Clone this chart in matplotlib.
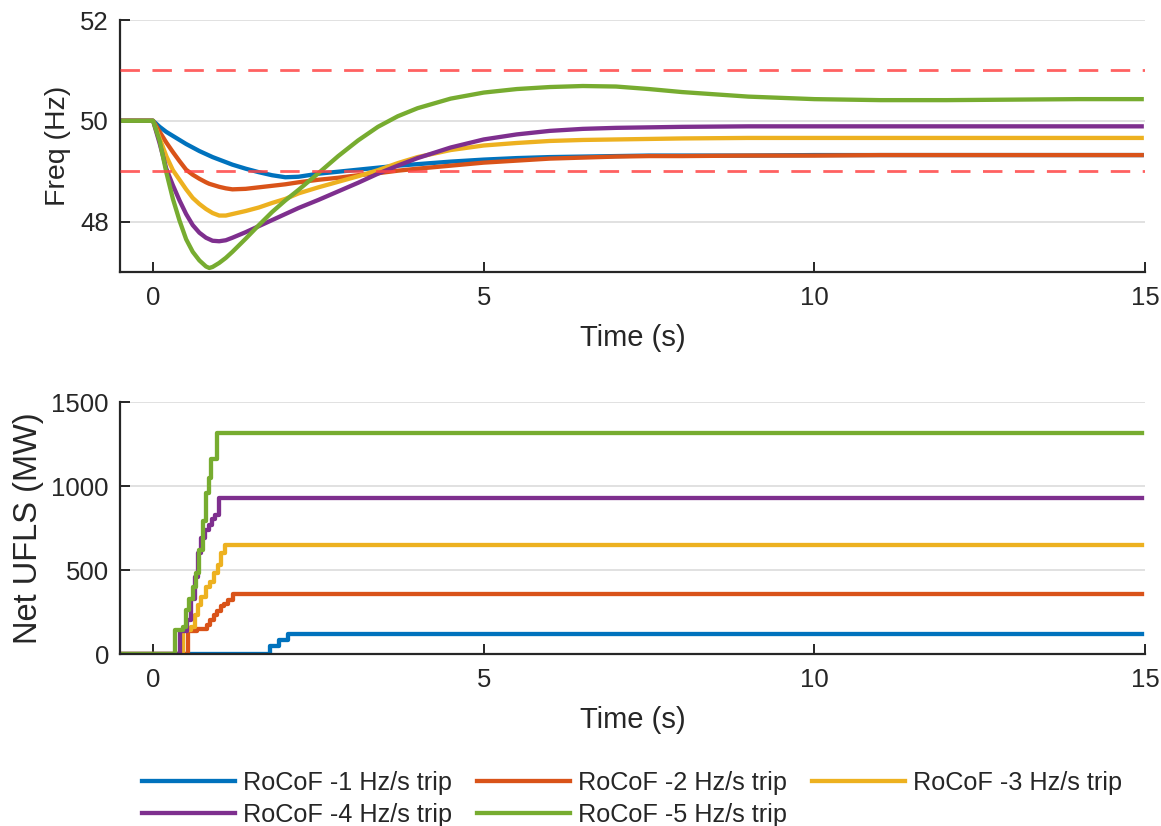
import matplotlib
matplotlib.use("Agg")
import matplotlib.pyplot as plt

plt.rcParams['font.family'] = ['Liberation Sans', 'DejaVu Sans']
plt.rcParams['text.color'] = '#262626'
plt.rcParams['axes.labelcolor'] = '#262626'
plt.rcParams['xtick.color'] = '#262626'
plt.rcParams['ytick.color'] = '#262626'

# ---- data -------------------------------------------------------------
labels = ["RoCoF -1 Hz/s trip", "RoCoF -2 Hz/s trip", "RoCoF -3 Hz/s trip",
          "RoCoF -4 Hz/s trip", "RoCoF -5 Hz/s trip"]
colors = ["#0072BD", "#D95319", "#EDB120", "#7E2F8E", "#77AC30"]

# frequency response (Hz)
t_freq = [-0.5, 0, 0.1, 0.2, 0.3, 0.4, 0.5, 0.6, 0.7, 0.8, 0.85, 0.9, 1.0, 1.1,
          1.2, 1.4, 1.6, 1.8, 2.0, 2.2, 2.5, 2.8, 3.1, 3.4, 3.7, 4.0, 4.5, 5.0,
          5.5, 6.0, 6.5, 7.0, 7.5, 8.0, 9.0, 10.0, 11.0, 12.0, 13.0, 14.0, 14.95]
f_rocof1 = [50, 50, 49.88, 49.78, 49.70, 49.62, 49.54, 49.47, 49.40, 49.34, 49.31,
            49.28, 49.23, 49.18, 49.13, 49.05, 48.98, 48.92, 48.88, 48.89, 48.95,
            48.99, 49.03, 49.07, 49.11, 49.14, 49.19, 49.23, 49.26, 49.28, 49.29,
            49.30, 49.31, 49.31, 49.31, 49.32, 49.32, 49.32, 49.32, 49.32, 49.32]
f_rocof2 = [50, 50, 49.78, 49.57, 49.38, 49.20, 49.03, 48.93, 48.85, 48.78, 48.75,
            48.73, 48.69, 48.66, 48.64, 48.65, 48.68, 48.71, 48.74, 48.78, 48.83,
            48.87, 48.92, 48.96, 49.01, 49.05, 49.11, 49.17, 49.21, 49.25, 49.27,
            49.29, 49.30, 49.30, 49.31, 49.31, 49.32, 49.32, 49.32, 49.32, 49.32]
f_rocof3 = [50, 50, 49.65, 49.30, 49.02, 48.83, 48.64, 48.47, 48.35, 48.25, 48.21,
            48.17, 48.12, 48.12, 48.15, 48.21, 48.28, 48.37, 48.45, 48.56, 48.68,
            48.79, 48.90, 49.02, 49.16, 49.28, 49.42, 49.51, 49.56, 49.60, 49.62,
            49.63, 49.64, 49.65, 49.66, 49.66, 49.66, 49.66, 49.66, 49.66, 49.66]
f_rocof4 = [50, 50, 49.55, 49.05, 48.72, 48.42, 48.15, 47.93, 47.78, 47.68, 47.65,
            47.62, 47.61, 47.63, 47.68, 47.79, 47.91, 48.03, 48.15, 48.27, 48.43,
            48.60, 48.77, 48.95, 49.11, 49.26, 49.47, 49.63, 49.73, 49.80, 49.84,
            49.86, 49.87, 49.88, 49.89, 49.89, 49.89, 49.89, 49.89, 49.89, 49.89]
f_rocof5 = [50, 50, 49.60, 48.98, 48.45, 48.02, 47.65, 47.40, 47.23, 47.11, 47.08,
            47.10, 47.18, 47.28, 47.40, 47.66, 47.93, 48.19, 48.42, 48.63, 48.96,
            49.30, 49.61, 49.88, 50.09, 50.25, 50.44, 50.56, 50.63, 50.67, 50.69,
            50.68, 50.63, 50.57, 50.48, 50.43, 50.41, 50.41, 50.42, 50.43, 50.43]
freq_series = [f_rocof1, f_rocof2, f_rocof3, f_rocof4, f_rocof5]
freq_limits = [51, 49]

# net UFLS (MW), stepwise
t_ufls1 = [-0.5, 1.77, 1.90, 2.04, 14.95]
p_ufls1 = [0, 50, 85, 118, 118]
t_ufls2 = [-0.5, 0.53, 0.66, 0.81, 0.86, 0.92, 0.97, 1.02, 1.07, 1.13, 1.21, 14.95]
p_ufls2 = [0, 135, 150, 175, 205, 230, 255, 285, 300, 320, 358, 358]
t_ufls3 = [-0.5, 0.46, 0.58, 0.63, 0.68, 0.73, 0.80, 0.86, 0.92, 0.98, 1.03, 1.09, 14.95]
p_ufls3 = [0, 140, 160, 230, 290, 340, 400, 430, 480, 530, 600, 650, 650]
t_ufls4 = [-0.5, 0.41, 0.52, 0.58, 0.63, 0.68, 0.73, 0.78, 0.84, 0.89, 0.94, 1.00, 14.95]
p_ufls4 = [0, 135, 200, 330, 460, 600, 690, 740, 770, 805, 825, 928, 928]
t_ufls5 = [-0.5, 0.33, 0.45, 0.50, 0.55, 0.60, 0.65, 0.70, 0.75, 0.80, 0.84, 0.87, 0.96, 14.95]
p_ufls5 = [0, 140, 160, 260, 330, 400, 480, 620, 790, 960, 1050, 1160, 1315, 1315]
ufls_t = [t_ufls1, t_ufls2, t_ufls3, t_ufls4, t_ufls5]
ufls_p = [p_ufls1, p_ufls2, p_ufls3, p_ufls4, p_ufls5]

# ---- figure -----------------------------------------------------------
fig = plt.figure(figsize=(11.61, 8.26), dpi=100)
ax1 = fig.add_axes([120 / 1161, 1 - 272 / 826, 1025 / 1161, 252 / 826])
ax2 = fig.add_axes([120 / 1161, 1 - 654 / 826, 1025 / 1161, 252 / 826])

for f, c, lab in zip(freq_series, colors, labels):
    ax1.plot(t_freq, f, color=c, lw=3.1, label=lab, solid_joinstyle='round')
for lim in freq_limits:
    ax1.axhline(lim, color='#FF4545', alpha=0.85, lw=2.0, dashes=(7, 4.5), zorder=5)

for tt, pp, c in zip(ufls_t, ufls_p, colors):
    ax2.plot(tt, pp, color=c, lw=3.1, drawstyle='steps-post')

ax1.set_ylim(47, 52)
ax1.set_yticks([48, 50, 52])
ax1.set_ylabel("Freq (Hz)", fontsize=20.5)
ax1.yaxis.set_label_coords(-0.048, 0.5)

ax2.set_ylim(0, 1500)
ax2.set_yticks([0, 500, 1000, 1500])
ax2.set_ylabel("Net UFLS (MW)", fontsize=23.5)
ax2.yaxis.set_label_coords(-0.074, 0.5)

for ax in (ax1, ax2):
    ax.set_xlim(-0.5, 15)
    ax.set_xticks([0, 5, 10, 15])
    ax.set_xlabel("Time (s)", fontsize=21)
    ax.xaxis.set_label_coords(0.5, -0.205)
    ax.spines['top'].set_visible(False)
    ax.spines['right'].set_visible(False)
    for s in ('left', 'bottom'):
        ax.spines[s].set_linewidth(1.6)
        ax.spines[s].set_color('#262626')
    ax.tick_params(direction='in', length=7, width=1.4, labelsize=18.5)
    ax.tick_params(axis='x', pad=10)
    ax.tick_params(axis='y', pad=8)
    ax.grid(axis='y', color='#dcdcdc', lw=1.2)
    ax.set_axisbelow(True)

# legend filled row by row, three columns
handles, labs = ax1.get_legend_handles_labels()
order = [0, 3, 1, 4, 2]
fig.legend([handles[i] for i in order], [labs[i] for i in order],
           loc='center', bbox_to_anchor=(632 / 1161, 1 - 799 / 826),
           ncol=3, frameon=False, fontsize=18.2, handlelength=3.68,
           handletextpad=0.32, columnspacing=1.0, labelspacing=0.3)

fig.savefig("out.png", dpi=100)
